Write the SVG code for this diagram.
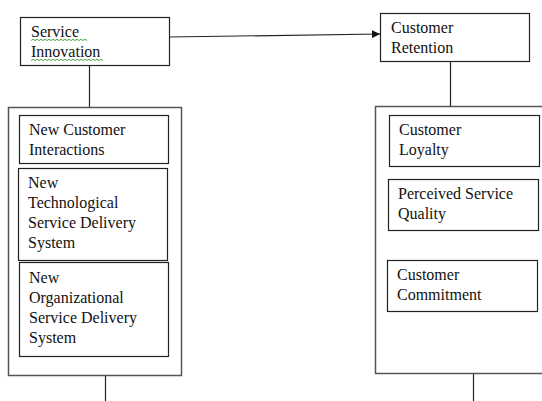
<svg xmlns="http://www.w3.org/2000/svg" width="542" height="401" viewBox="0 0 542 401">
<defs>
<style>
.box{fill:#fff;stroke:#222;stroke-width:1.2}
.outer{fill:#fff;stroke:#555;stroke-width:1.5}
.t{font-family:"Liberation Serif","Times New Roman",serif;font-size:16px;fill:#111}
.ln{stroke:#222;stroke-width:1.2;fill:none}
.wavy{stroke:#3a9a3a;stroke-width:0.9;fill:none}
</style>
<marker id="arr" viewBox="0 0 10 10" refX="10" refY="5" markerWidth="8" markerHeight="8" markerUnits="userSpaceOnUse" orient="auto">
<path d="M0,0 L10,5 L0,10 z" fill="#111"/>
</marker>
</defs>
<rect width="542" height="401" fill="#fff"/>
<g id="connectors">
<line class="ln" x1="89.5" y1="65" x2="89.5" y2="108"/>
<line class="ln" x1="450.5" y1="61" x2="450.5" y2="106"/>
<line class="ln" x1="105.5" y1="375" x2="105.5" y2="401"/>
<line class="ln" x1="473.5" y1="373" x2="473.5" y2="401"/>
<line class="ln" x1="169" y1="37" x2="380" y2="34" marker-end="url(#arr)"/>
</g>
<g id="service-innovation">
<rect class="box" x="20.5" y="17.5" width="149" height="48"/>
<text class="t" x="31" y="37">Service</text>
<text class="t" x="31" y="57">Innovation</text>
<path class="wavy" d="M31,40.5 l2,-1.2 l2,1.2 l2,-1.2 l2,1.2 l2,-1.2 l2,1.2 l2,-1.2 l2,1.2 l2,-1.2 l2,1.2 l2,-1.2 l2,1.2 l2,-1.2 l2,1.2 l2,-1.2 l2,1.2 l2,-1.2 l2,1.2 l2,-1.2 l2,1.2 l2,-1.2 l2,1.2 l2,-1.2 l2,1.2 l2,-1.2 l2,1.2 l2,-1.2 l2,1.2"/>
<path class="wavy" d="M31,60.5 l2,-1.2 l2,1.2 l2,-1.2 l2,1.2 l2,-1.2 l2,1.2 l2,-1.2 l2,1.2 l2,-1.2 l2,1.2 l2,-1.2 l2,1.2 l2,-1.2 l2,1.2 l2,-1.2 l2,1.2 l2,-1.2 l2,1.2 l2,-1.2 l2,1.2 l2,-1.2 l2,1.2 l2,-1.2 l2,1.2 l2,-1.2 l2,1.2 l2,-1.2 l2,1.2 l2,-1.2 l2,1.2 l2,-1.2 l2,1.2 l2,-1.2 l2,1.2 l2,-1.2 l2,1.2"/>
</g>
<g id="customer-retention">
<rect class="box" x="380.5" y="13.5" width="149" height="48"/>
<text class="t" x="391" y="33">Customer</text>
<text class="t" x="391" y="53">Retention</text>
</g>
<g id="left-group">
<rect class="outer" x="8.5" y="107.5" width="173" height="268"/>
</g>
<g id="new-customer-interactions">
<rect class="box" x="19.5" y="115.5" width="149" height="48"/>
<text class="t" x="29" y="135">New Customer</text>
<text class="t" x="29" y="155">Interactions</text>
</g>
<g id="new-technological">
<rect class="box" x="18.5" y="168.5" width="149" height="92"/>
<text class="t" x="28" y="188">New</text>
<text class="t" x="28" y="208">Technological</text>
<text class="t" x="28" y="228">Service Delivery</text>
<text class="t" x="28" y="248">System</text>
</g>
<g id="new-organizational">
<rect class="box" x="19.5" y="262.5" width="149" height="94"/>
<text class="t" x="29" y="283">New</text>
<text class="t" x="29" y="303">Organizational</text>
<text class="t" x="29" y="323">Service Delivery</text>
<text class="t" x="29" y="343">System</text>
</g>
<g id="right-group">
<rect class="outer" x="375.5" y="106.5" width="180" height="267"/>
</g>
<g id="customer-loyalty">
<rect class="box" x="389.5" y="115.5" width="150" height="51"/>
<text class="t" x="399" y="135">Customer</text>
<text class="t" x="399" y="155">Loyalty</text>
</g>
<g id="perceived-service-quality">
<rect class="box" x="388.5" y="179.5" width="150" height="51"/>
<text class="t" x="398" y="199">Perceived Service</text>
<text class="t" x="398" y="219">Quality</text>
</g>
<g id="customer-commitment">
<rect class="box" x="387.5" y="260.5" width="150" height="51"/>
<text class="t" x="397" y="280">Customer</text>
<text class="t" x="397" y="300">Commitment</text>
</g>
</svg>
